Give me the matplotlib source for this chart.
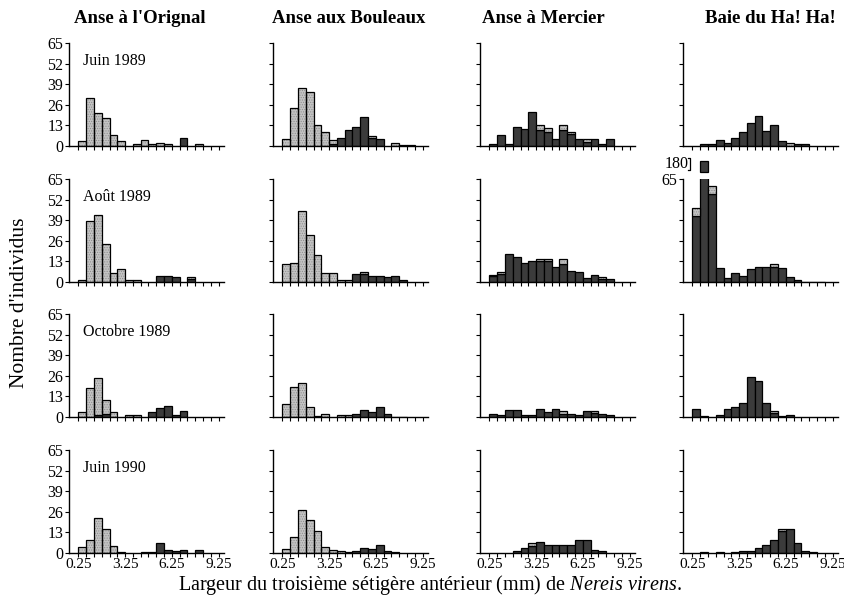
import matplotlib
matplotlib.use('Agg')
import matplotlib.pyplot as plt

plt.rcParams['font.family'] = 'Liberation Serif'
plt.rcParams['mathtext.fontset'] = 'custom'
plt.rcParams['mathtext.rm'] = 'Liberation Serif'
plt.rcParams['mathtext.it'] = 'Liberation Serif:italic'
plt.rcParams['hatch.linewidth'] = 0.5

sites = ["Anse à l'Orignal", 'Anse aux Bouleaux', 'Anse à Mercier', 'Baie du Ha! Ha!']
dates = ['Juin 1989', 'Août 1989', 'Octobre 1989', 'Juin 1990']
bin_left = [0.25 + 0.5 * k for k in range(17)]
y_ticks = [0, 13, 26, 39, 52, 65]
x_ticks = [0.25 + 0.5 * k for k in range(19)]
x_labels = ['0.25', '3.25', '6.25', '9.25']

# counts per width class, one list per sampling date (light = upper part of stack)
orignal_light = [
    [3, 30, 21, 17.5, 7, 3, 0, 1, 3.5, 1, 2, 1, 0, 0, 0, 1, 0],
    [1.3, 38.8, 42, 24, 5.7, 8, 1.5, 1.5, 0, 0, 0, 0, 0, 0, 1, 0, 0],
    [3.1, 18.3, 23.4, 9, 3.1, 0, 1, 1, 0, 0, 0, 0, 0, 0, 0, 0, 0],
    [3.7, 8.3, 21.9, 15, 4.6, 0.6, 0, 0, 0, 0, 0, 0, 0, 0, 0, 0, 0],
]
orignal_dark = [
    [0, 0, 0, 0, 0, 0, 0, 0, 0, 0, 0, 0, 0, 5, 0, 0, 0],
    [0, 0, 0, 0, 0, 0, 0, 0, 0, 0, 3.6, 3.6, 3.1, 0, 2, 0, 0],
    [0, 0, 1, 1.8, 0, 0, 0, 0, 0, 3.3, 5.8, 6.7, 1.5, 3.7, 0, 0, 0],
    [0, 0, 0, 0, 0, 0, 0, 0, 0.6, 0.6, 6.2, 1.7, 1.3, 1.7, 0, 1.7, 0],
]
bouleaux_light = [
    [4.4, 24, 36.5, 34, 13, 8.6, 3, 0, 0, 0, 0, 1.5, 0, 0, 1.7, 0.5, 0],
    [11.5, 12.3, 45, 29.8, 17, 5.8, 5.8, 1, 1, 0, 1.2, 0, 0, 0, 0, 0, 0],
    [8.3, 18.7, 21.2, 6.2, 0.6, 1.7, 0, 1, 1, 0, 0, 0, 0, 0, 0, 0, 0],
    [2.5, 10, 27, 21, 14, 4, 2, 1, 0, 0, 0, 0, 0, 0, 0, 0, 0],
]
bouleaux_dark = [
    [0, 0, 0, 0, 0, 0, 1, 5, 10, 12, 18, 5, 4.4, 0, 0, 0, 0.5],
    [0, 0, 0, 0, 0, 0, 0, 0, 0, 4.8, 4.8, 3.7, 3.7, 3, 4, 1, 0],
    [0, 0, 0, 0, 0, 0, 0, 0, 0, 1.7, 4.4, 3.3, 6.2, 2, 0.3, 0.3, 0],
    [0, 0, 0, 0, 0, 0, 0, 0, 0.5, 1.5, 3, 2.5, 5, 1, 0.5, 0, 0],
]
mercier_light = [
    [0, 0, 0, 0, 0, 0, 3, 2.5, 0, 3, 1, 0, 2, 0, 0, 0, 0],
    [1, 1.2, 0, 0, 0, 0, 1.3, 1.3, 0, 3, 0, 0, 0, 0, 1, 0, 0],
    [0, 0, 0, 0, 0, 0, 0, 0, 0, 1.5, 0, 0, 0, 1.4, 0, 0, 0],
    [0, 0, 0, 0, 0, 1.5, 0, 0, 0, 0, 0, 0, 0, 0, 0, 0, 0],
]
mercier_dark = [
    [1.5, 6.7, 1.5, 12, 11, 21.4, 10, 9, 4.6, 10, 7.8, 4.6, 2.6, 4.6, 1.5, 4.2, 0],
    [3.6, 5, 17.5, 15.8, 11.9, 13, 13.3, 13.3, 9.2, 11.5, 7, 6.2, 2.5, 4.2, 2.1, 1.9, 0],
    [1.9, 1, 4.3, 4.3, 1, 1, 5, 3.1, 5.2, 2, 1.9, 1, 3.9, 2.5, 1.9, 1, 0],
    [0, 0, 0, 1, 3, 4.5, 7, 5, 5, 5, 5, 8, 8, 2, 1, 0, 0],
]
haha_light = [
    [0, 0, 0, 0, 0, 0, 0, 0, 0, 0, 0, 0, 2, 0, 0, 0, 0],
    [5, 0, 5, 0, 0, 0, 0, 0, 0, 0, 2, 0, 0, 0, 0, 0, 0],
    [0, 0, 0, 0, 0, 0, 0, 0, 0, 0, 1.6, 0, 0, 0, 0, 0, 0],
    [0, 0, 0, 0, 0, 0, 0, 0, 0, 0, 0, 1, 0, 0, 0, 0, 0],
]
haha_dark = [
    [0, 1, 1, 4, 1.6, 5, 8.7, 14.8, 19, 9.7, 13.2, 3.3, 0, 1, 1, 0, 0],
    [41.6, 180, 55.7, 8.7, 2.5, 5.8, 3.5, 8.2, 9.3, 9.3, 9.3, 8.9, 2.9, 1, 0.3, 0.3, 0.3],
    [5.2, 0.8, 0, 1.4, 4.8, 6.6, 9.1, 25, 22.6, 8.9, 2.5, 0.4, 1.4, 0, 0, 0, 0],
    [0, 0.5, 0, 0.5, 0, 0.5, 1, 1, 3, 5, 8, 14, 15, 6, 1, 0.5, 0],
]

light_data = [orignal_light, bouleaux_light, mercier_light, haha_light]
dark_data = [orignal_dark, bouleaux_dark, mercier_dark, haha_dark]

LIGHT = '#c3c3c3'
DARK = '#3b3b3b'

W, H = 845, 596
col_x = [69, 273, 480, 683]
row_zero = [146, 282, 417, 553]
title_x = [140, 349, 543, 770]
ax_w, ax_h = 155, 103

fig = plt.figure(figsize=(W / 100, H / 100), dpi=100)


def draw_bars(ax, lefts, heights, bottoms, color, hatch=None):
    xs = [l for l, h in zip(lefts, heights) if h > 0]
    hs = [h for h in heights if h > 0]
    bs = [b for b, h in zip(bottoms, heights) if h > 0]
    if not xs:
        return
    if hatch:
        ax.bar(xs, hs, width=0.5, bottom=bs, align='edge', color=color,
               edgecolor='#8c8c8c', hatch=hatch, linewidth=0, zorder=2)
        ax.bar(xs, hs, width=0.5, bottom=bs, align='edge', fill=False,
               edgecolor='black', linewidth=0.9, zorder=3)
    else:
        ax.bar(xs, hs, width=0.5, bottom=bs, align='edge', color=color,
               edgecolor='black', linewidth=0.9, zorder=2)


for c in range(4):
    fig.text(title_x[c] / W, 1 - 23 / H, sites[c], fontsize=13.5,
             fontweight='bold', ha='center', va='baseline')
    for r in range(4):
        ax = fig.add_axes([col_x[c] / W, 1 - row_zero[r] / H, ax_w / W, ax_h / H])
        dark = dark_data[c][r]
        light = light_data[c][r]
        draw_bars(ax, bin_left, dark, [0] * len(dark), DARK)
        draw_bars(ax, bin_left, light, dark, LIGHT, hatch='.......')
        ax.set_xlim(-0.35, 9.6)
        ax.set_ylim(0, 65)
        ax.spines['top'].set_visible(False)
        ax.spines['right'].set_visible(False)
        for s in ('left', 'bottom'):
            ax.spines[s].set_linewidth(1.0)
        ax.set_xticks(x_ticks)
        ax.set_yticks(y_ticks)
        ax.tick_params(direction='out', length=3, width=0.8, labelsize=11.5, pad=1)
        ax.tick_params(axis='x', labelsize=11, pad=0.5)
        if r == 3:
            ax.set_xticklabels([f'{t:.2f}' if f'{t:.2f}' in x_labels else '' for t in x_ticks])
        else:
            ax.set_xticklabels([])
        if c == 0:
            ax.set_yticklabels([str(v) for v in y_ticks])
            ax.text(0.09, 0.79, dates[r], transform=ax.transAxes, fontsize=11.5,
                    va='baseline')
        else:
            ax.set_yticklabels([])
        # broken axis for the off-scale class at Ha! Ha! in August
        if max(dark) > 65:
            k = dark.index(max(dark))
            ax.set_yticklabels(['' for v in y_ticks[:-1]] + ['65'])
            ax.bar(bin_left[k], 7, width=0.5, bottom=69.5, align='edge', color=DARK,
                   edgecolor='black', linewidth=0.9, clip_on=False)
            ax.text(-0.02, 74.5, f'{int(max(dark))}', fontsize=11.5, ha='right', va='center')
            ax.plot([-0.05, 0.1, 0.1, -0.05], [78, 78, 70.5, 70.5], color='black',
                    linewidth=0.9, clip_on=False)

fig.text(20 / W, 1 - 303 / H, "Nombre d'individus", rotation=90, fontsize=15.5,
         ha='center', va='center')
fig.text(430 / W, 1 - 590 / H,
         r'Largeur du troisième sétigère antérieur (mm) de $\it{Nereis\ virens}$.',
         fontsize=14.5, ha='center', va='baseline')

fig.savefig('out.png', dpi=100)
